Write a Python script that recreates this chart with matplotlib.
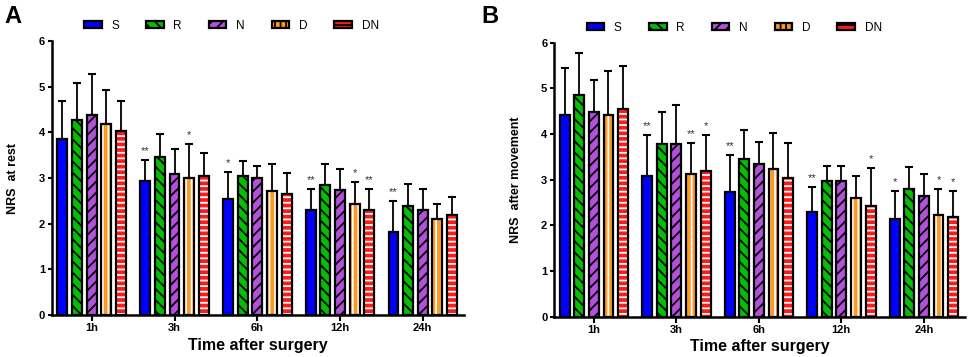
import numpy as np
import matplotlib
matplotlib.use("Agg")
import matplotlib.pyplot as plt

plt.rcParams['font.family'] = ['Liberation Sans', 'DejaVu Sans']
plt.rcParams['font.weight'] = 'bold'
plt.rcParams['hatch.linewidth'] = 1.3

times = ["1h", "3h", "6h", "12h", "24h"]
groups = ["S", "R", "N", "D", "DN"]

# panel A: NRS at rest (mean, mean+sd)
rest_mean = {
    "S":  [3.86, 2.93, 2.55, 2.30, 1.82],
    "R":  [4.27, 3.45, 3.04, 2.85, 2.38],
    "N":  [4.37, 3.08, 3.01, 2.74, 2.30],
    "D":  [4.19, 3.01, 2.71, 2.42, 2.11],
    "DN": [4.04, 3.04, 2.64, 2.30, 2.19],
}
rest_top = {
    "S":  [4.68, 3.40, 3.14, 2.76, 2.50],
    "R":  [5.08, 3.96, 3.38, 3.31, 2.86],
    "N":  [5.27, 3.63, 3.27, 3.20, 2.76],
    "D":  [4.92, 3.74, 3.31, 2.91, 2.44],
    "DN": [4.69, 3.55, 3.12, 2.76, 2.58],
}
rest_stars = {("S", 1): "**", ("D", 1): "*", ("S", 2): "*", ("S", 3): "**",
              ("D", 3): "*", ("DN", 3): "**", ("S", 4): "**"}

# panel B: NRS after movement
move_mean = {
    "S":  [4.41, 3.08, 2.74, 2.30, 2.15],
    "R":  [4.86, 3.78, 3.45, 2.97, 2.79],
    "N":  [4.49, 3.79, 3.34, 2.97, 2.64],
    "D":  [4.41, 3.12, 3.23, 2.59, 2.23],
    "DN": [4.56, 3.19, 3.04, 2.42, 2.19],
}
move_top = {
    "S":  [5.45, 3.99, 3.55, 2.84, 2.75],
    "R":  [5.77, 4.48, 4.09, 3.30, 3.28],
    "N":  [5.19, 4.63, 3.82, 3.30, 3.12],
    "D":  [5.39, 3.81, 4.02, 3.09, 2.80],
    "DN": [5.50, 3.98, 3.80, 3.26, 2.75],
}
move_stars = {("S", 1): "**", ("D", 1): "**", ("DN", 1): "*", ("S", 2): "**",
              ("S", 3): "**", ("DN", 3): "*", ("S", 4): "*", ("D", 4): "*",
              ("DN", 4): "*"}

face = {"S": "#0000ff", "R": "#00c000", "N": "#b450dc", "D": "#ff9820", "DN": "#ff1a1a"}
hatch = {"S": None, "R": "\\\\\\", "N": "///", "D": "|||", "DN": "---"}
hcol = {"S": "black", "R": "black", "N": "black", "D": "white", "DN": "white"}


def draw_panel(ax, means, tops, stars, ylabel, leg_x):
    x = np.arange(len(times))
    pitch = 0.177
    width = 0.12
    for i, g in enumerate(groups):
        xs = x + (i - 2) * pitch
        m = np.array(means[g])
        t = np.array(tops[g])
        ax.errorbar(xs, m, yerr=[np.zeros_like(m), t - m], fmt="none",
                    ecolor="black", elinewidth=1.3, capsize=3, capthick=1.5, zorder=1)
        ax.bar(xs, m, width, color=face[g], edgecolor="none", zorder=2)
        if hatch[g]:
            ax.bar(xs, m, width, fill=False, edgecolor=hcol[g], hatch=hatch[g],
                   linewidth=0, zorder=3)
        ax.bar(xs, m, width, fill=False, edgecolor="black", linewidth=1.6, zorder=4)
        # legend proxy
        ax.bar([np.nan], [np.nan], width, facecolor=face[g], edgecolor="black",
               linewidth=1.6, hatch=hatch[g], label=g)
        for j in range(len(times)):
            if (g, j) in stars:
                ax.text(xs[j], t[j] + 0.08, stars[(g, j)], ha="center", va="bottom",
                        fontsize=8, color="#333333", fontweight="normal")
    ax.set_xlim(-0.48, 4.5)
    ax.set_ylim(0, 6)
    ax.set_xticks(x)
    ax.set_xticklabels(times, fontsize=8, fontweight="bold")
    ax.set_yticks(range(7))
    ax.tick_params(axis="y", labelsize=8, width=1.5, length=3, pad=2)
    ax.tick_params(axis="x", width=1.5, length=4, pad=2)
    for s in ["top", "right"]:
        ax.spines[s].set_visible(False)
    for s in ["left", "bottom"]:
        ax.spines[s].set_linewidth(1.8)
    ax.set_ylabel(ylabel, fontsize=9, fontweight="bold", labelpad=14)
    ax.set_xlabel("Time after surgery", fontsize=11.5, fontweight="bold", labelpad=3)
    ax.legend(loc="center", bbox_to_anchor=(leg_x, 1.055), ncol=5, frameon=False,
              prop={"size": 8.5, "weight": "normal"}, handlelength=1.5,
              handleheight=0.6, columnspacing=2.3, handletextpad=0.8)


fig = plt.figure(figsize=(9.69, 3.57), dpi=100)
ax1 = fig.add_axes([0.0537, 0.1176, 0.4253, 0.7676])
ax2 = fig.add_axes([0.572, 0.113, 0.424, 0.767])
draw_panel(ax1, rest_mean, rest_top, rest_stars, "NRS  at rest", 0.435)
draw_panel(ax2, move_mean, move_top, move_stars, "NRS  after movement", 0.438)

fig.text(0.005, 0.955, "A", fontsize=17, fontweight="bold", va="center")
fig.text(0.497, 0.955, "B", fontsize=17, fontweight="bold", va="center")

fig.savefig("out.png", dpi=100)
